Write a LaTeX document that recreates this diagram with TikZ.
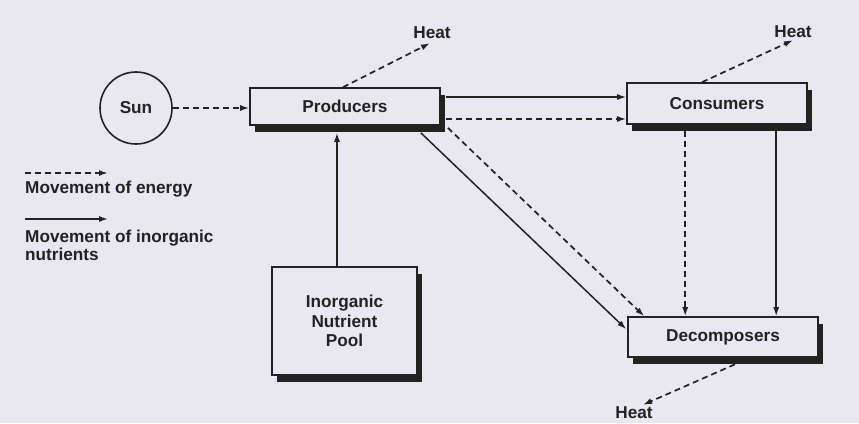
\documentclass[tikz,border=0pt]{standalone}
\usepackage{fontspec}
\setmainfont{Liberation Sans}
\usetikzlibrary{arrows.meta,shadows,calc}
\definecolor{paper}{HTML}{E9E7EF}
\definecolor{ink}{HTML}{222222}
\begin{document}
\begin{tikzpicture}[x=1pt,y=-1pt,
  lbl/.style={font=\bfseries\fontsize{17.2}{18}\selectfont, text=ink, inner sep=1pt},
  box/.style={lbl, draw=ink, line width=1.6pt, fill=paper, inner sep=0pt, align=center,
    drop shadow={shadow xshift=5pt, shadow yshift=-6.5pt, fill=ink, opacity=1}},
  nut/.style={draw=ink, line width=1.5pt, -{Latex[length=9pt,width=6pt]}},
  en/.style={nut, line width=1.7pt, dash pattern=on 6pt off 4pt},
]
\fill[paper] (0,0) rectangle (859,423);
\useasboundingbox (0,0) rectangle (859,423);

% main nodes
\node[lbl, circle, draw=ink, line width=1.6pt, minimum size=72pt, inner sep=0pt] (sun) at (136,108) {Sun};
\node[box, minimum width=190pt, minimum height=37pt] (prod) at (345,106.5) {Producers};
\node[box, minimum width=180pt, minimum height=41pt] (cons) at (717,103.5) {Consumers};
\node[box, minimum width=190pt, minimum height=40pt] (dec) at (723,337) {Decomposers};
\node[box, font=\bfseries\fontsize{17.2}{19.5}\selectfont, minimum width=145pt, minimum height=108pt] (pool) at (344.5,321) {Inorganic\\Nutrient\\Pool};

% heat labels
\node[lbl] (h1) at (432,33) {Heat};
\node[lbl] (h2) at (793,32) {Heat};
\node[lbl] (h3) at (634,413) {Heat};

% helper coordinates
\coordinate (pe1) at ($(prod.east)+(5,-9.5)$);
\coordinate (pe2) at ($(prod.east)+(5,12.5)$);
\coordinate (cs1) at ($(cons.south west)+(59,6.5)$);
\coordinate (cs2) at ($(cons.south west)+(150,0)$);
\coordinate (pn) at ($(pool.north)+(-7.5,0)$);

% energy flows
\draw[en] (sun.east) -- (sun.east -| prod.west);
\draw[en] ([xshift=-2pt]prod.north) -- ([xshift=-2pt,yshift=-3pt]h1.south);
\draw[en] ([xshift=-15pt]cons.north) -- ([yshift=-1pt]h2.south);
\draw[en] ([xshift=12pt,yshift=-6.5pt]dec.south) -- ([xshift=9pt,yshift=1pt]h3.north);
\draw[en] (pe2) -- (pe2 -| cons.west);
\draw[en] ($(prod.south east)+(7,2)$) -- ($(dec.north west)+(17,0)$);
\draw[en] (cs1) -- (cs1 |- dec.north);

% nutrient flows
\draw[nut] (pe1) -- (pe1 -| cons.west);
\draw[nut] ($(prod.south east)+(-20,7)$) -- ($(dec.north west)+(-1,13)$);
\draw[nut] (cs2) -- (cs2 |- dec.north);
\draw[nut] (pn) -- ($(pn |- prod.south)+(0,7)$);

% legend
\coordinate (l1a) at (25,173);
\coordinate (l1b) at (108,173);
\draw[en] (l1a) -- (l1b);
\node[lbl, anchor=west] (t1) at (24,189) {Movement of energy};
\coordinate (l2a) at (25,219);
\coordinate (l2b) at (108,219);
\draw[nut] (l2a) -- (l2b);
\node[lbl, anchor=north west, align=left] (t2) at (24,229) {Movement of inorganic\\nutrients};
\end{tikzpicture}
\end{document}
